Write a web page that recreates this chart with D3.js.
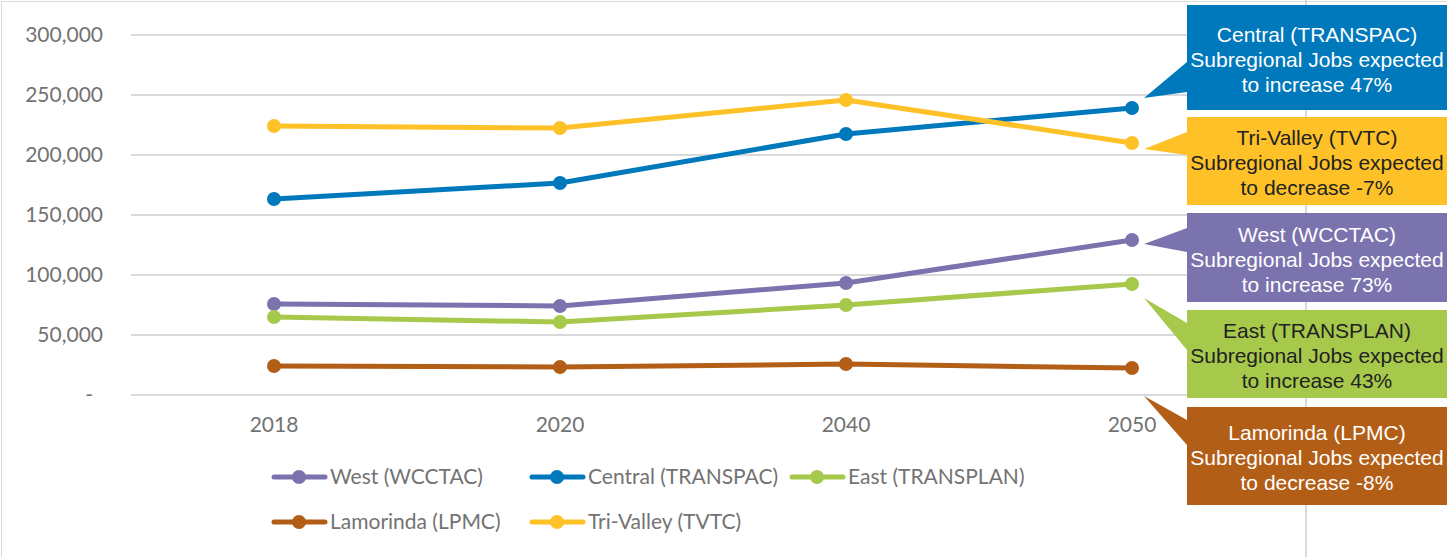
<!DOCTYPE html>
<html>
<head>
<meta charset="utf-8">
<script src="https://cdn.jsdelivr.net/npm/d3@7"></script>
<style>
  body { margin: 0; background: #fff; }
  svg { display: block; }
  .tick-label { font-family: Lato, sans-serif; font-size: 21px; fill: #737373; }
  .legend-label { font-family: Lato, sans-serif; font-size: 21px; fill: #737373; }
  .callout text { font-family: "Liberation Sans", Arial, sans-serif; font-size: 21px; }
</style>
</head>
<body>
<div id="chart"></div>
<script>
const years = ['2018', '2020', '2040', '2050']
const yTicks = [0, 50000, 100000, 150000, 200000, 250000, 300000]

const seriesNames = ['West (WCCTAC)', 'Central (TRANSPAC)', 'East (TRANSPLAN)', 'Lamorinda (LPMC)', 'Tri-Valley (TVTC)']
const seriesColors = ['#7B73AE', '#0079BC', '#A7C94B', '#B25E17', '#FEC228']

const west = [75800, 74200, 93300, 129200]
const central = [163300, 176700, 217500, 239200]
const east = [65000, 60800, 75000, 92500]
const lamorinda = [24200, 23300, 25800, 22500]
const triValley = [224200, 222500, 245800, 210000]

const seriesValues = [west, central, east, lamorinda, triValley]

// callout boxes, top to bottom, which series each one points at
const calloutOrder = [1, 4, 0, 2, 3]
const calloutText = [
    ['Central (TRANSPAC)', 'Subregional Jobs expected', 'to increase 47%'],
    ['Tri-Valley (TVTC)', 'Subregional Jobs expected', 'to decrease -7%'],
    ['West (WCCTAC)', 'Subregional Jobs expected', 'to increase 73%'],
    ['East (TRANSPLAN)', 'Subregional Jobs expected', 'to increase 43%'],
    ['Lamorinda (LPMC)', 'Subregional Jobs expected', 'to decrease -8%']
]
const calloutTextColor = ['#fff', '#222', '#fff', '#222', '#fff']

const width = 1447
const height = 557

const svg = d3.select('#chart').append('svg')
    .attr('width', width)
    .attr('height', height)

// outer chart border
svg.append('rect')
    .attr('x', 1.5).attr('y', 1.5)
    .attr('width', width + 10).attr('height', height + 10)
    .attr('fill', 'none')
    .attr('stroke', '#d9d9d9')

// stray vertical rule at the right
svg.append('line')
    .attr('x1', 1306).attr('x2', 1306)
    .attr('y1', 0).attr('y2', height)
    .attr('stroke', '#d9d9d9').attr('stroke-width', 2)

const x = d3.scalePoint()
    .domain(years)
    .range([131, 1275])
    .padding(0.5)

const y = d3.scaleLinear()
    .domain([0, 300000])
    .range([395, 35])

// gridlines
svg.append('g')
    .selectAll('line')
    .data(yTicks)
    .enter()
    .append('line')
    .attr('x1', 131).attr('x2', 1275)
    .attr('y1', d => y(d)).attr('y2', d => y(d))
    .attr('stroke', '#d9d9d9')
    .attr('stroke-width', 2)

// y labels
svg.append('g')
    .selectAll('text')
    .data(yTicks)
    .enter()
    .append('text')
    .attr('class', 'tick-label')
    .attr('x', d => d === 0 ? 93 : 103)
    .attr('y', d => y(d))
    .attr('dy', '0.35em')
    .attr('text-anchor', 'end')
    .text(d => d === 0 ? '-' : d3.format(',')(d))

// x labels
svg.append('g')
    .selectAll('text')
    .data(years)
    .enter()
    .append('text')
    .attr('class', 'tick-label')
    .attr('x', d => x(d))
    .attr('y', 425)
    .attr('dy', '0.35em')
    .attr('text-anchor', 'middle')
    .text(d => d)

const line = d3.line()
    .x((d, i) => x(years[i]))
    .y(d => y(d))

const series = svg.append('g')
    .selectAll('g')
    .data(seriesValues)
    .enter()
    .append('g')

series.append('path')
    .attr('d', line)
    .attr('fill', 'none')
    .attr('stroke', (d, i) => seriesColors[i])
    .attr('stroke-width', 5)
    .attr('stroke-linejoin', 'round')

series.selectAll('circle')
    .data((d, i) => d.map(v => ({ v, c: seriesColors[i] })))
    .enter()
    .append('circle')
    .attr('cx', (d, i) => x(years[i]))
    .attr('cy', d => y(d.v))
    .attr('r', 7)
    .attr('fill', d => d.c)

// callouts
const boxTops = [5, 117, 213, 310, 407]
const boxBottoms = [110, 205, 302, 398, 505]
const boxLeft = 1187
const pointerBase = [[62, 92], [132, 155], [228, 252], [323, 350], [420, 445]]
const tipGap = 12

const callouts = svg.append('g')
    .selectAll('g')
    .data(calloutOrder)
    .enter()
    .append('g')
    .attr('class', 'callout')

callouts.append('path')
    .attr('d', (s, k) => {
        const top = boxTops[k]
        const bot = boxBottoms[k]
        const tipX = x(years[3]) + tipGap
        const tipY = y(seriesValues[s][3]) + [-10, 6, 4, 14, 28][k]
        const [b1, b2] = pointerBase[k]
        return `M${boxLeft},${top}H${width + 5}V${bot}H${boxLeft}V${b2}L${tipX},${tipY}L${boxLeft},${b1}Z`
    })
    .attr('fill', s => seriesColors[s])

callouts.each(function (s, k) {
    const g = d3.select(this)
    const cy = (boxTops[k] + boxBottoms[k]) / 2 + 2
    g.append('text')
        .attr('x', 1317)
        .attr('y', cy - 25)
        .attr('text-anchor', 'middle')
        .attr('fill', calloutTextColor[k])
        .selectAll('tspan')
        .data(calloutText[k])
        .enter()
        .append('tspan')
        .attr('x', 1317)
        .attr('dy', (d, i) => i === 0 ? '0.35em' : 25)
        .text(d => d)
})

// legend
const legendPos = [[272, 477], [530, 477], [790, 477], [272, 522], [530, 522]]

const legend = svg.append('g')
    .selectAll('g')
    .data(seriesNames)
    .enter()
    .append('g')
    .attr('transform', (d, i) => `translate(${legendPos[i][0]},${legendPos[i][1]})`)

legend.append('line')
    .attr('x1', 2).attr('x2', 53)
    .attr('stroke', (d, i) => seriesColors[i])
    .attr('stroke-width', 5)
    .attr('stroke-linecap', 'round')

legend.append('circle')
    .attr('cx', 27)
    .attr('r', 7)
    .attr('fill', (d, i) => seriesColors[i])

legend.append('text')
    .attr('class', 'legend-label')
    .attr('x', 58)
    .attr('dy', '0.35em')
    .text(d => d)
</script>
</body>
</html>
